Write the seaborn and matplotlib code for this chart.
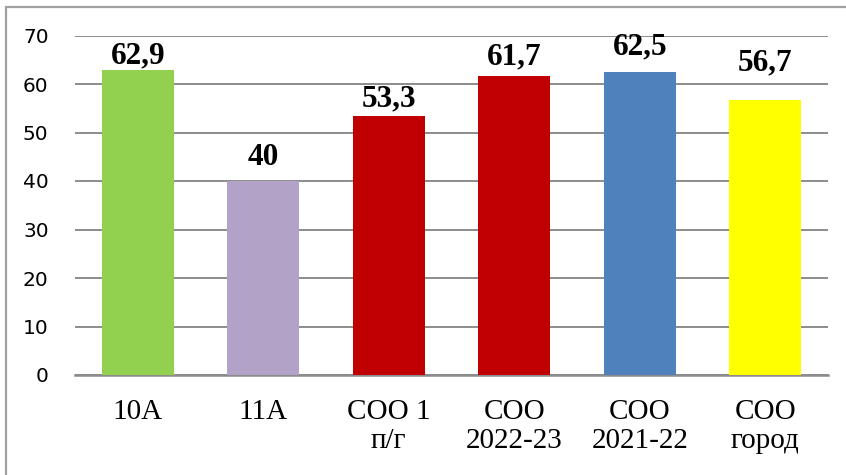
import matplotlib
matplotlib.use("Agg")
import matplotlib.pyplot as plt
import seaborn as sns
import pandas as pd
from matplotlib.lines import Line2D

categories = ["10А", "11А", "СОО 1\nп/г", "СОО\n2022-23", "СОО\n2021-22", "СОО\nгород"]
values = [62.9, 40, 53.3, 61.7, 62.5, 56.7]
value_labels = ["62,9", "40", "53,3", "61,7", "62,5", "56,7"]
colors = ["#92D050", "#B3A2C7", "#C00000", "#C00000", "#4F81BD", "#FFFF00"]
yticks = [0, 10, 20, 30, 40, 50, 60, 70]
# manual label placement (gap above bar top, in pixels)
label_gaps_px = [7, 16, 10, 11, 17, 30]

sns.set_theme(style="white")
plt.rcParams['font.family'] = ['Liberation Serif', 'DejaVu Serif']

W, H = 846, 475
fig = plt.figure(figsize=(W / 100, H / 100), dpi=100)
fig.patch.set_facecolor("white")

ax_left, ax_right, ax_top, ax_bottom = 75, 828, 35.5, 375
ax = fig.add_axes([ax_left / W, (H - ax_bottom) / H, (ax_right - ax_left) / W, (ax_bottom - ax_top) / H])

df = pd.DataFrame({"cat": categories, "val": values})
sns.barplot(data=df, x="cat", y="val", hue="cat", palette=colors, legend=False,
            width=0.574, saturation=1, ax=ax, zorder=3, linewidth=0, edgecolor="none")

ax.set_ylim(0, 70)
ax.set_xlim(-0.5, len(categories) - 0.5)
ax.set_yticks(yticks)
ax.yaxis.grid(True, color="#8c8c8c", linewidth=1.4, zorder=0)
ax.set_axisbelow(True)
for s in ["left", "right", "top"]:
    ax.spines[s].set_visible(False)
ax.spines["bottom"].set_color("#8c8c8c")
ax.spines["bottom"].set_linewidth(1.8)
ax.set_xlabel("")
ax.set_ylabel("")
ax.tick_params(axis="both", length=0)
ax.tick_params(axis="y", pad=19)
ax.tick_params(axis="x", pad=17)
for lbl in ax.get_yticklabels():
    lbl.set_fontfamily(['DejaVu Sans'])
    lbl.set_fontsize(14.5)
    lbl.set_color("black")
for lbl in ax.get_xticklabels():
    lbl.set_fontfamily(['Liberation Serif', 'DejaVu Serif'])
    lbl.set_fontsize(21)
    lbl.set_color("black")
    lbl.set_linespacing(1.15)

for i, (v, t, g) in enumerate(zip(values, value_labels, label_gaps_px)):
    ax.annotate(t, xy=(i, v), xytext=(0, g * 0.72), textcoords="offset points",
                ha="center", va="baseline", fontsize=22.5, fontweight="bold",
                family=['Liberation Serif', 'DejaVu Serif'], color="black", zorder=5)

# outer frame
fig.add_artist(Line2D([5.5 / W, 5.5 / W], [0, (H - 7) / H], transform=fig.transFigure,
                      color="#a0a0a0", linewidth=1.6))
fig.add_artist(Line2D([5.5 / W, 1], [(H - 7) / H, (H - 7) / H], transform=fig.transFigure,
                      color="#a0a0a0", linewidth=1.6))

fig.savefig("out.png", dpi=100, facecolor="white")
